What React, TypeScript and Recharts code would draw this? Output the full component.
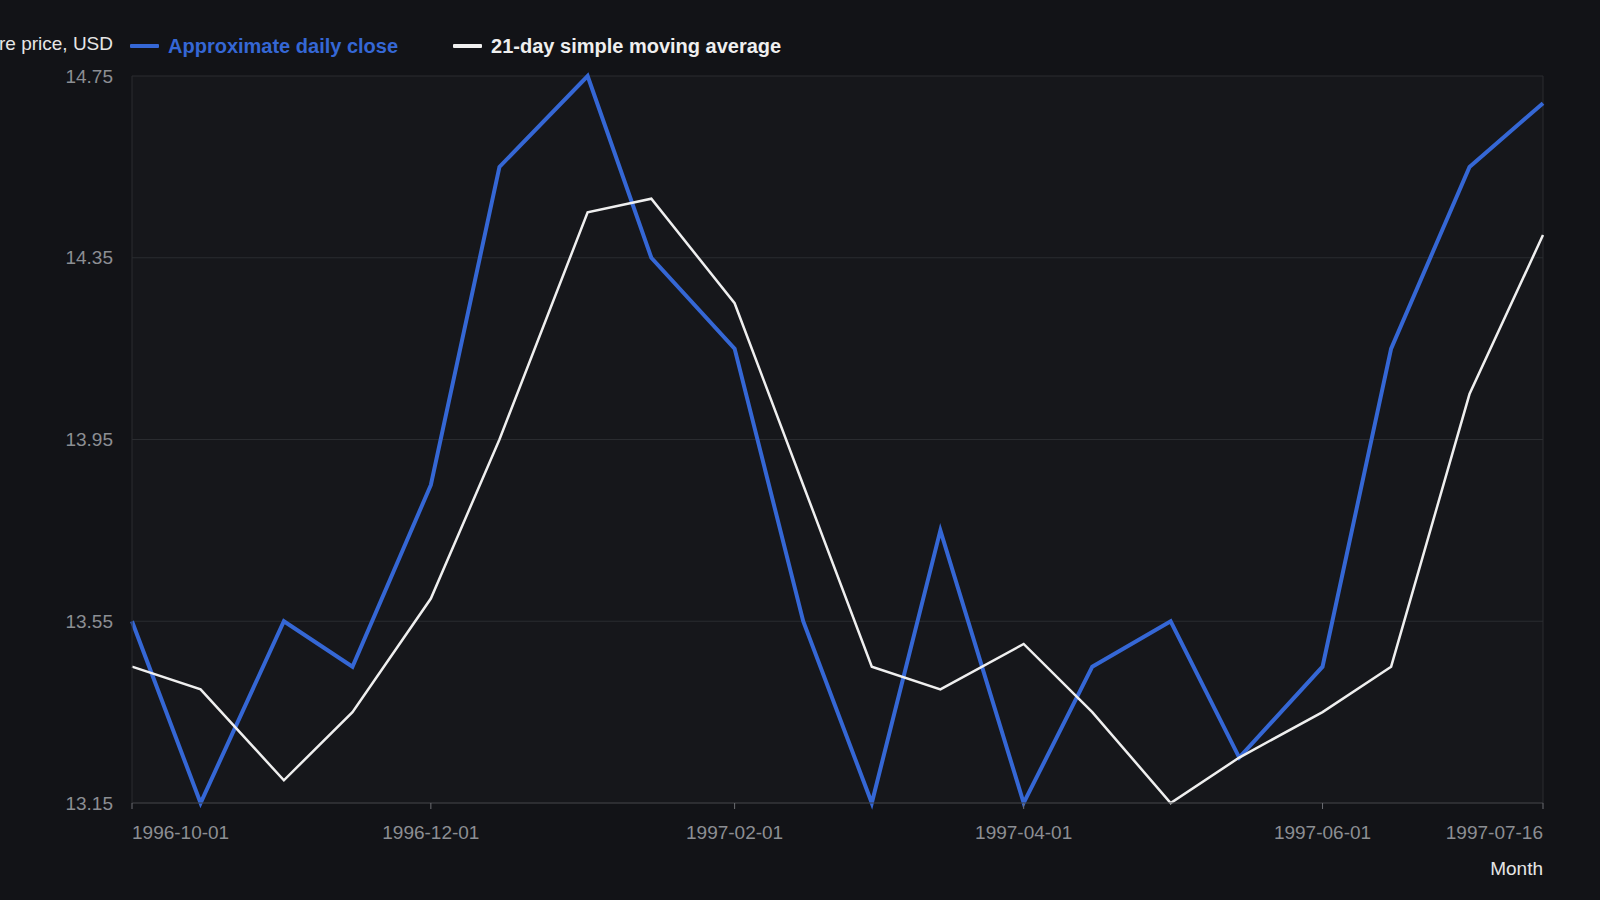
import React from 'react';
import { LineChart, Line, XAxis, YAxis, CartesianGrid, Legend, ReferenceLine } from 'recharts';

const DATES = [
  '1996-10-01', '1996-10-15', '1996-11-01', '1996-11-15', '1996-12-01',
  '1996-12-15', '1997-01-02', '1997-01-15', '1997-02-01', '1997-02-15',
  '1997-03-01', '1997-03-15', '1997-04-01', '1997-04-15', '1997-05-01',
  '1997-05-15', '1997-06-01', '1997-06-15', '1997-07-01', '1997-07-16',
];
const CLOSE = [
  13.55, 13.15, 13.55, 13.45, 13.85, 14.55, 14.75, 14.35, 14.15, 13.55,
  13.15, 13.75, 13.15, 13.45, 13.55, 13.25, 13.45, 14.15, 14.55, 14.69,
];
const SMA = [
  13.45, 13.4, 13.2, 13.35, 13.6, 13.95, 14.45, 14.48, 14.25, 13.85,
  13.45, 13.4, 13.5, 13.35, 13.15, 13.25, 13.35, 13.45, 14.05, 14.4,
];
const SERIES_NAMES = ['Approximate daily close', '21-day simple moving average'];
const X_TICKS = ['1996-10-01', '1996-12-01', '1997-02-01', '1997-04-01', '1997-06-01', '1997-07-16'];
const Y_TICKS = [13.15, 13.55, 13.95, 14.35, 14.75];

const FONT = '"Liberation Sans", Arial, sans-serif';
const BLUE = '#3567d5';
const WHITE = '#efefef';
const GRID = '#2a2c30';
const TICK = '#8c8e93';

const toTime = (s: string) => Date.parse(s);
const fmtDate = (t: number) => new Date(t).toISOString().slice(0, 10);

const data = DATES.map((d, i) => ({ t: toTime(d), close: CLOSE[i], sma: SMA[i] }));
const xTicks = X_TICKS.map(toTime);

const XTick = (props: any) => {
  const { x, y, payload } = props;
  const v = payload.value;
  const anchor = v === xTicks[0] ? 'start' : v === xTicks[xTicks.length - 1] ? 'end' : 'middle';
  return (
    <text x={x} y={y} dy="0.71em" textAnchor={anchor} fill={TICK} fontSize={19} fontFamily={FONT}>
      {fmtDate(v)}
    </text>
  );
};

const renderLegend = (props: any) => {
  const items = [...(props.payload || [])].sort(
    (a: any, b: any) => SERIES_NAMES.indexOf(a.value) - SERIES_NAMES.indexOf(b.value)
  );
  return (
    <div style={{ display: 'flex', alignItems: 'center', gap: 55, fontFamily: FONT, fontSize: 20, fontWeight: 700, lineHeight: '24px' }}>
      {items.map((p: any) => (
        <div key={p.value} style={{ display: 'flex', alignItems: 'center' }}>
          <span style={{ display: 'inline-block', width: 29, height: 4, background: p.color, marginRight: 9, borderRadius: 1 }} />
          <span style={{ color: p.color, whiteSpace: 'nowrap' }}>{p.value}</span>
        </div>
      ))}
    </div>
  );
};

export default function App() {
  return (
    <div style={{ position: 'fixed', inset: 0, background: '#121317', overflow: 'hidden' }}>
      <LineChart width={1600} height={900} data={data} margin={{ top: 76, right: 57, bottom: 57, left: 0 }}>
        <CartesianGrid vertical={false} stroke={GRID} fill="#16171b" />
        <XAxis
          dataKey="t"
          type="number"
          scale="time"
          domain={[xTicks[0], xTicks[xTicks.length - 1]]}
          ticks={xTicks}
          interval={0}
          height={40}
          tick={<XTick />}
          tickSize={6}
          tickMargin={17}
          tickLine={{ stroke: '#6b6d72' }}
          axisLine={{ stroke: '#3a3c40' }}
          label={(lp: any) => {
            const vb = lp.viewBox || {};
            return (
              <text x={vb.x + vb.width} y={vb.y + 72} textAnchor="end" fill="#e6e6e6" fontSize={19} fontFamily={FONT}>
                Month
              </text>
            );
          }}
        />
        <YAxis
          width={132}
          domain={[13.15, 14.75]}
          ticks={Y_TICKS}
          interval={0}
          tickFormatter={(v: number) => v.toFixed(2)}
          tick={{ fill: TICK, fontSize: 19, fontFamily: FONT }}
          tickLine={false}
          tickSize={6}
          tickMargin={13}
          axisLine={{ stroke: GRID }}
          label={(lp: any) => {
            const vb = lp.viewBox || {};
            return (
              <text x={vb.x + vb.width - 19} y={vb.y - 33} dy="0.355em" textAnchor="end" fill="#e6e6e6" fontSize={19} fontFamily={FONT}>
                Share price, USD
              </text>
            );
          }}
        />
        <ReferenceLine x={xTicks[xTicks.length - 1]} stroke={GRID} />
        <Legend
          layout="vertical"
          verticalAlign="middle"
          align="center"
          wrapperStyle={{ top: 34, left: 130, width: 760 }}
          content={renderLegend}
        />
        <Line
          type="linear"
          dataKey="close"
          name={SERIES_NAMES[0]}
          stroke={BLUE}
          strokeWidth={4}
          dot={false}
          activeDot={false}
          isAnimationActive={false}
        />
        <Line
          type="linear"
          dataKey="sma"
          name={SERIES_NAMES[1]}
          stroke={WHITE}
          strokeWidth={2.5}
          dot={false}
          activeDot={false}
          isAnimationActive={false}
        />
      </LineChart>
    </div>
  );
}
